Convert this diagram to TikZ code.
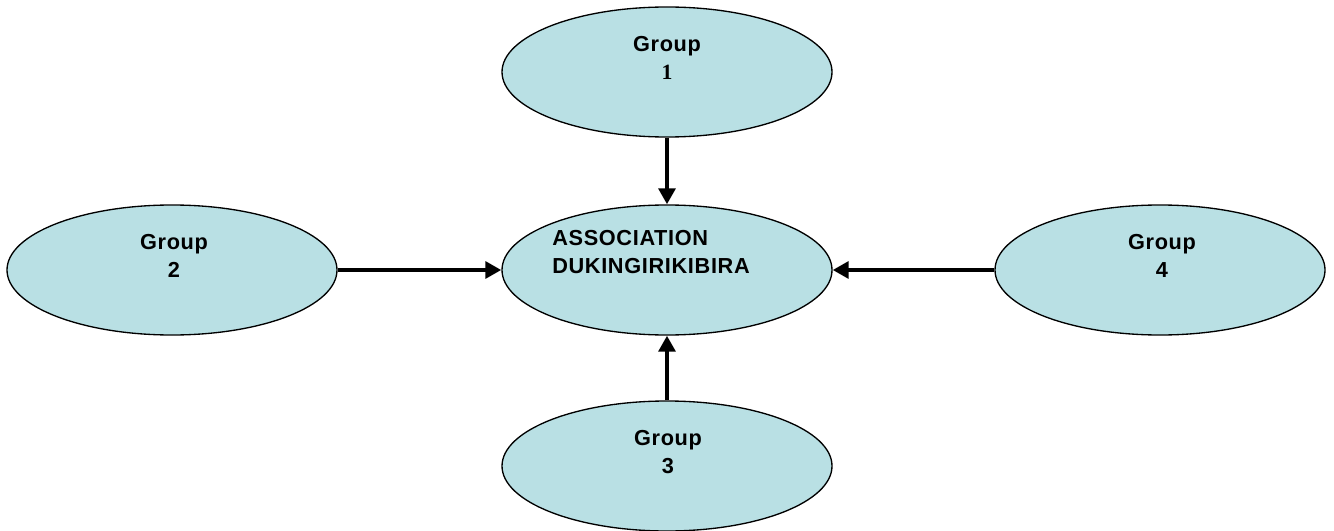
\documentclass[tikz,border=0pt]{standalone}
\usepackage{fontspec}
\setmainfont{Liberation Sans}[LetterSpace=3]
\newfontfamily\numfont{Liberation Serif}
\usetikzlibrary{shapes.geometric, arrows.meta, positioning}
\definecolor{groupfill}{RGB}{185,224,228}

\begin{document}
\begin{tikzpicture}[
        x=0.75pt, y=-0.75pt,
        grp/.style={ellipse, draw=black, line width=1pt, fill=groupfill, inner sep=0pt, minimum width=247.5pt, minimum height=97.5pt},
        lbl/.style={align=center, font=\fontsize{16.3}{20.5}\selectfont\bfseries, inner sep=0pt},
        arrow/.style={-{Triangle[length=12pt, width=12.5pt]}, line width=3.2pt}
    ]
        \useasboundingbox (0,0) rectangle (1334,531);

        \node[grp] (g1)    at (667, 72)  {};
        \node[grp] (assoc) at (667, 270) {};
        \node[grp] (g2)    at (172, 270) {};
        \node[grp] (g4)    at (1160, 270) {};
        \node[grp] (g3)    at (667, 466) {};

        \node[lbl] (t1) at (667, 58)  {Group\\{\numfont 1}};
        \node[lbl] (t2) at (174, 256) {Group\\2};
        \node[lbl] (t4) at (1162, 256) {Group\\4};
        \node[lbl] (t3) at (668, 452) {Group\\3};
        \node[lbl, align=left, anchor=west] (ta) at (552, 252) {ASSOCIATION\\DUKINGIRIKIBIRA};

        \draw[arrow] (g1.south) -- (assoc.north);
        \draw[arrow] (g2.east) -- (assoc.west);
        \draw[arrow] (g4.west) -- (assoc.east);
        \draw[arrow] (g3.north) -- (assoc.south);
    \end{tikzpicture}
\end{document}
